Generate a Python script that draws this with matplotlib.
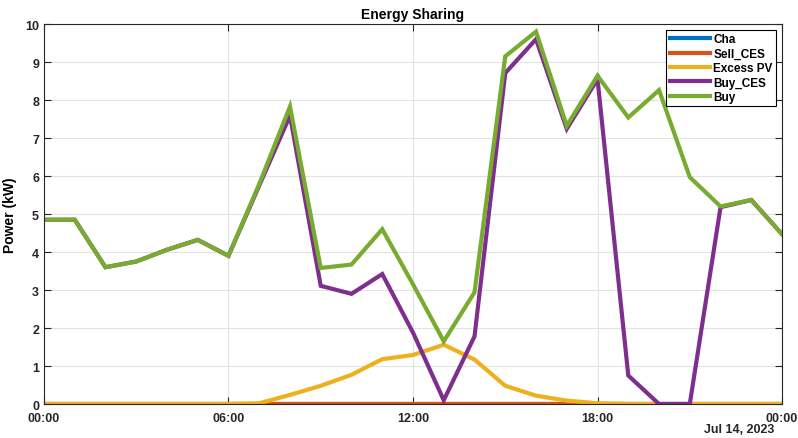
import numpy as np
import pandas as pd
import matplotlib
matplotlib.use("Agg")
import matplotlib.pyplot as plt
import matplotlib.dates as mdates

# hourly samples, Jul 13 00:00 .. Jul 14 00:00
times = pd.date_range("2023-07-13 00:00", "2023-07-14 00:00", freq="h")

cha = [0.0] * 25
sell_ces = [0.0] * 25
excess_pv = [0, 0, 0, 0, 0, 0, 0, 0.02, 0.24, 0.48, 0.77, 1.18, 1.29,
             1.56, 1.17, 0.48, 0.22, 0.09, 0.02, 0, 0, 0, 0, 0, 0]
buy_ces = [4.85, 4.85, 3.6, 3.75, 4.06, 4.32, 3.9, 5.75, 7.59, 3.11, 2.9, 3.42, 1.88,
           0.1, 1.78, 8.71, 9.6, 7.24, 8.55, 0.75, 0.0, 0.0, 5.18, 5.37, 4.47]
buy = [4.85, 4.85, 3.6, 3.75, 4.06, 4.32, 3.9, 5.79, 7.83, 3.58, 3.67, 4.6, 3.15,
       1.65, 2.94, 9.15, 9.8, 7.32, 8.64, 7.54, 8.26, 5.97, 5.2, 5.37, 4.47]

labels = ["Cha", "Sell_CES", "Excess PV", "Buy_CES", "Buy"]
colors = ["#0072BD", "#D95319", "#EDB120", "#7E2F8E", "#77AC30"]

plt.rcParams["font.family"] = ["Liberation Sans", "DejaVu Sans"]
plt.rcParams["font.weight"] = "bold"

fig = plt.figure(figsize=(7.98, 4.39), dpi=100)
ax = fig.add_axes([0.0551, 0.0774, 0.9249, 0.8656])

for series, lab, col in zip([cha, sell_ces, excess_pv, buy_ces, buy], labels, colors):
    ax.plot(times, series, color=col, linewidth=3, label=lab, solid_joinstyle="miter")

ax.set_xlim(times[0], times[-1])
ax.set_ylim(0, 10)
ax.set_yticks(range(0, 11))
ax.set_xticks(pd.date_range("2023-07-13 00:00", "2023-07-14 00:00", freq="6h"))
ax.xaxis.set_major_formatter(mdates.DateFormatter("%H:%M"))

ax.grid(True, color="#e3e3e3", linewidth=0.8)
ax.set_axisbelow(True)
ax.tick_params(direction="in", length=5, width=0.8, top=True, right=True,
               labelsize=9, colors="#262626")
ax.tick_params(axis="x", pad=6)
for sp in ax.spines.values():
    sp.set_color("#262626")
    sp.set_linewidth(0.8)

ax.set_title("Energy Sharing", fontsize=10, fontweight="bold", pad=4)
ax.set_ylabel("Power (kW)", fontsize=10, fontweight="bold", labelpad=6)
ax.text(0.99, -0.066, "Jul 14, 2023", transform=ax.transAxes, ha="right", va="center",
        fontsize=9, fontweight="bold", color="#262626")

leg = ax.legend(loc="upper right", fontsize=8.5, handlelength=3.4, handletextpad=0.3,
                labelspacing=0.2, borderpad=0.3, borderaxespad=0.5, fancybox=False,
                framealpha=1, edgecolor="black")
leg.get_frame().set_linewidth(0.8)

fig.savefig("out.png", dpi=100)
